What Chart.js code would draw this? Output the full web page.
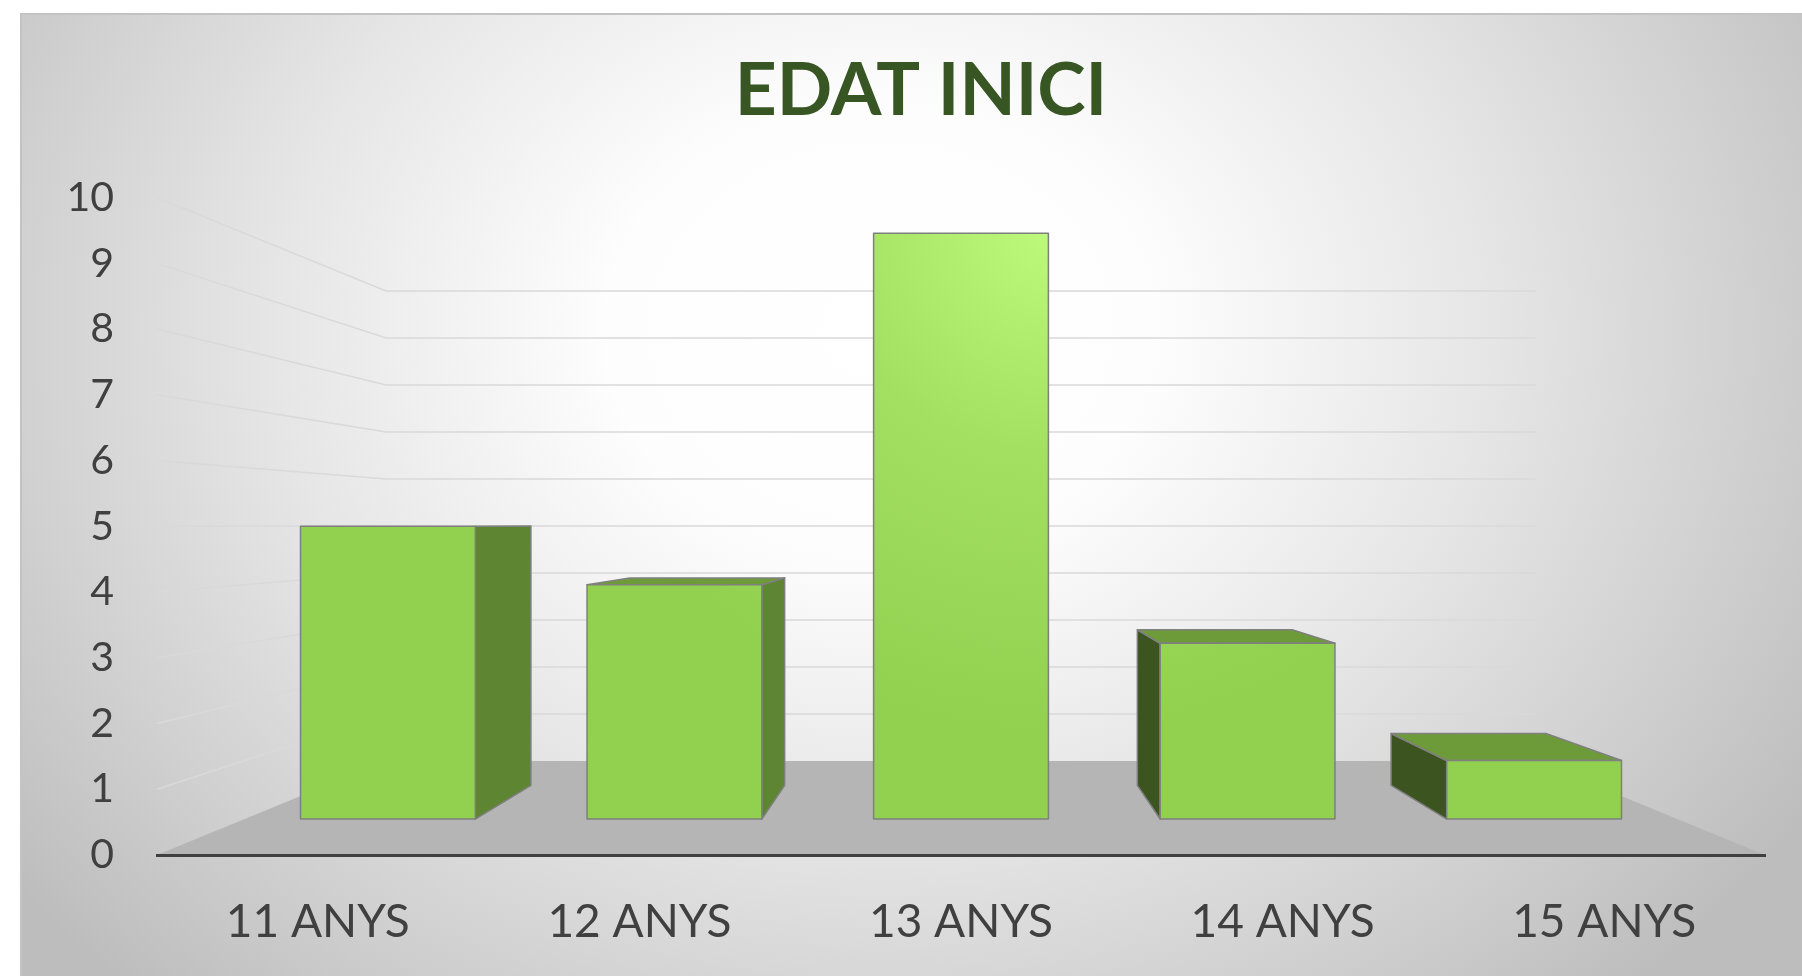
<!DOCTYPE html>
<html>
<head>
<meta charset="utf-8">
<script src="https://cdn.jsdelivr.net/npm/chart.js@4.4.1/dist/chart.umd.min.js"></script>
<style>
    html, body { margin: 0; padding: 0; background: #ffffff; }
    #wrap { width: 1802px; height: 976px; }
</style>
</head>
<body>
<div id="wrap"><canvas id="edatIniciChart" width="1802" height="976"></canvas></div>
<script>
// data
var categories = ['11 ANYS', '12 ANYS', '13 ANYS', '14 ANYS', '15 ANYS'];
var counts = [5, 4, 10, 3, 1];
var axisMin = 0;
var axisMax = 10;
var axisStep = 1;

// 3D look: depth factors toward the vanishing point (1 = front plane)
var floorBackDepth = 0.715;
var barFrontDepth = 0.891;
var barBackDepth = 0.789;
var eyeValue = 5.02;

function project(chart, x, y, s) {
    var a = chart.chartArea;
    var vx = (a.left + a.right) / 2;
    var vy = chart.scales.y.getPixelForValue(eyeValue);
    return [vx + (x - vx) * s, vy + (y - vy) * s];
}

function poly(ctx, pts, fill, stroke) {
    ctx.beginPath();
    ctx.moveTo(pts[0][0], pts[0][1]);
    for (var i = 1; i < pts.length; i++) {
        ctx.lineTo(pts[i][0], pts[i][1]);
    }
    ctx.closePath();
    ctx.fillStyle = fill;
    ctx.fill();
    if (stroke) {
        ctx.strokeStyle = stroke;
        ctx.lineWidth = 1.5;
        ctx.lineJoin = 'round';
        ctx.stroke();
    }
}

// background panel, floor and walls
var wallsPlugin = {
    id: 'walls',
    beforeDraw: function (chart) {
        var ctx = chart.ctx;
        var a = chart.chartArea;
        var yScale = chart.scales.y;
        var w = chart.width, h = chart.height;

        ctx.save();
        ctx.fillStyle = '#ffffff';
        ctx.fillRect(0, 0, w, h);

        // elliptical radial gradient
        ctx.save();
        ctx.translate(880, 330);
        ctx.scale(1, 0.82);
        var g = ctx.createRadialGradient(0, 0, 0, 0, 0, 1100);
        g.addColorStop(0, '#ffffff');
        g.addColorStop(0.25, '#fdfdfd');
        g.addColorStop(0.55, '#e6e6e6');
        g.addColorStop(0.85, '#cbcbcb');
        g.addColorStop(1, '#bdbdbd');
        ctx.fillStyle = g;
        ctx.fillRect(21 - 880, (14 - 330) / 0.82, w, (h - 14) / 0.82 + 10);
        ctx.restore();

        ctx.strokeStyle = '#c3c3c3';
        ctx.lineWidth = 2;
        ctx.beginPath();
        ctx.moveTo(21, h);
        ctx.lineTo(21, 14);
        ctx.lineTo(w, 14);
        ctx.stroke();

        // floor
        var y0 = yScale.getPixelForValue(axisMin);
        poly(ctx, [
            [a.left, y0],
            [a.right, y0],
            project(chart, a.right, y0, floorBackDepth),
            project(chart, a.left, y0, floorBackDepth)
        ], '#b5b5b5');

        // side wall lines + back wall gridlines
        ctx.strokeStyle = '#d9d9d9';
        ctx.lineWidth = 1.5;
        yScale.ticks.forEach(function (t) {
            if (t.value === axisMin) return;
            var yy = yScale.getPixelForValue(t.value);
            var bl = project(chart, a.left, yy, floorBackDepth);
            var br = project(chart, a.right, yy, floorBackDepth);
            ctx.beginPath();
            ctx.moveTo(a.left, yy);
            ctx.lineTo(bl[0], bl[1]);
            ctx.lineTo(br[0], br[1]);
            ctx.stroke();
        });
        ctx.restore();
    }
};

// the bars as boxes, built from the bar elements Chart.js laid out
var boxesPlugin = {
    id: 'boxes',
    afterDatasetsDraw: function (chart) {
        var ctx = chart.ctx;
        var a = chart.chartArea;
        var meta = chart.getDatasetMeta(0);
        var yScale = chart.scales.y;

        var gx = (a.left + a.right) / 2 + 90;
        var gy = yScale.getPixelForValue(axisMax) + 32;
        var frontFill = ctx.createRadialGradient(gx, gy, 0, gx, gy, 500);
        frontFill.addColorStop(0, '#bdfa7b');
        frontFill.addColorStop(0.45, '#a3e062');
        frontFill.addColorStop(1, '#92d050');

        ctx.save();
        meta.data.forEach(function (el) {
            var half = el.width / 2;
            var xl = el.x - half, xr = el.x + half;
            var yt = el.y, yb = el.base;
            var P = function (x, y, s) { return project(chart, x, y, s); };

            var fTL = P(xl, yt, barFrontDepth), fTR = P(xr, yt, barFrontDepth);
            var fBR = P(xr, yb, barFrontDepth), fBL = P(xl, yb, barFrontDepth);
            var bTL = P(xl, yt, barBackDepth), bTR = P(xr, yt, barBackDepth);
            var bBR = P(xr, yb, barBackDepth), bBL = P(xl, yb, barBackDepth);

            if (fTR[0] < bTR[0] - 0.5) {
                poly(ctx, [fTR, bTR, bBR, fBR], '#5e8531', '#7f7f7f');
            }
            if (fTL[0] > bTL[0] + 0.5) {
                poly(ctx, [fTL, bTL, bBL, fBL], '#3b5420', '#7f7f7f');
            }
            if (fTL[1] > bTL[1] + 0.5) {
                poly(ctx, [fTL, fTR, bTR, bTL], '#6e9b3a', '#7f7f7f');
            }
            poly(ctx, [fTL, fTR, fBR, fBL], frontFill, '#7f7f7f');
        });
        ctx.restore();
    }
};

var ctx = document.getElementById('edatIniciChart').getContext('2d');

var edatIniciChart = new Chart(ctx, {
    type: 'bar',
    data: {
        labels: categories,
        datasets: [{
            data: counts,
            backgroundColor: 'rgba(0,0,0,0)',
            borderWidth: 0,
            categoryPercentage: 1,
            barPercentage: 0.61
        }]
    },
    options: {
        responsive: false,
        animation: false,
        layout: {
            padding: { left: 40, right: 0, top: 14, bottom: 0 }
        },
        plugins: {
            legend: { display: false },
            tooltip: { enabled: false },
            title: {
                display: true,
                text: 'EDAT INICI',
                color: '#375623',
                font: { family: 'Lato', size: 73, weight: 'bold', lineHeight: 1.2 },
                padding: { top: 34, bottom: 62 }
            }
        },
        scales: {
            x: {
                grid: { display: false, drawTicks: false },
                border: { display: true, color: '#404040', width: 3 },
                ticks: {
                    color: '#404040',
                    font: { family: 'Lato', size: 46 },
                    padding: 40
                },
                afterFit: function (scale) {
                    scale.height = 121;
                }
            },
            y: {
                min: axisMin,
                max: axisMax,
                grid: { display: false, drawTicks: false },
                border: { display: false },
                ticks: {
                    stepSize: axisStep,
                    color: '#404040',
                    font: { family: 'Lato', size: 41 },
                    padding: 43
                },
                afterFit: function (scale) {
                    scale.width = 117;
                }
            },
            // empty right-hand strip so the floor ends where the reference does
            yRight: {
                position: 'right',
                grid: { display: false, drawTicks: false },
                border: { display: false },
                ticks: { display: false },
                afterFit: function (scale) {
                    scale.width = 37;
                }
            }
        }
    },
    plugins: [wallsPlugin, boxesPlugin]
});
</script>
</body>
</html>
